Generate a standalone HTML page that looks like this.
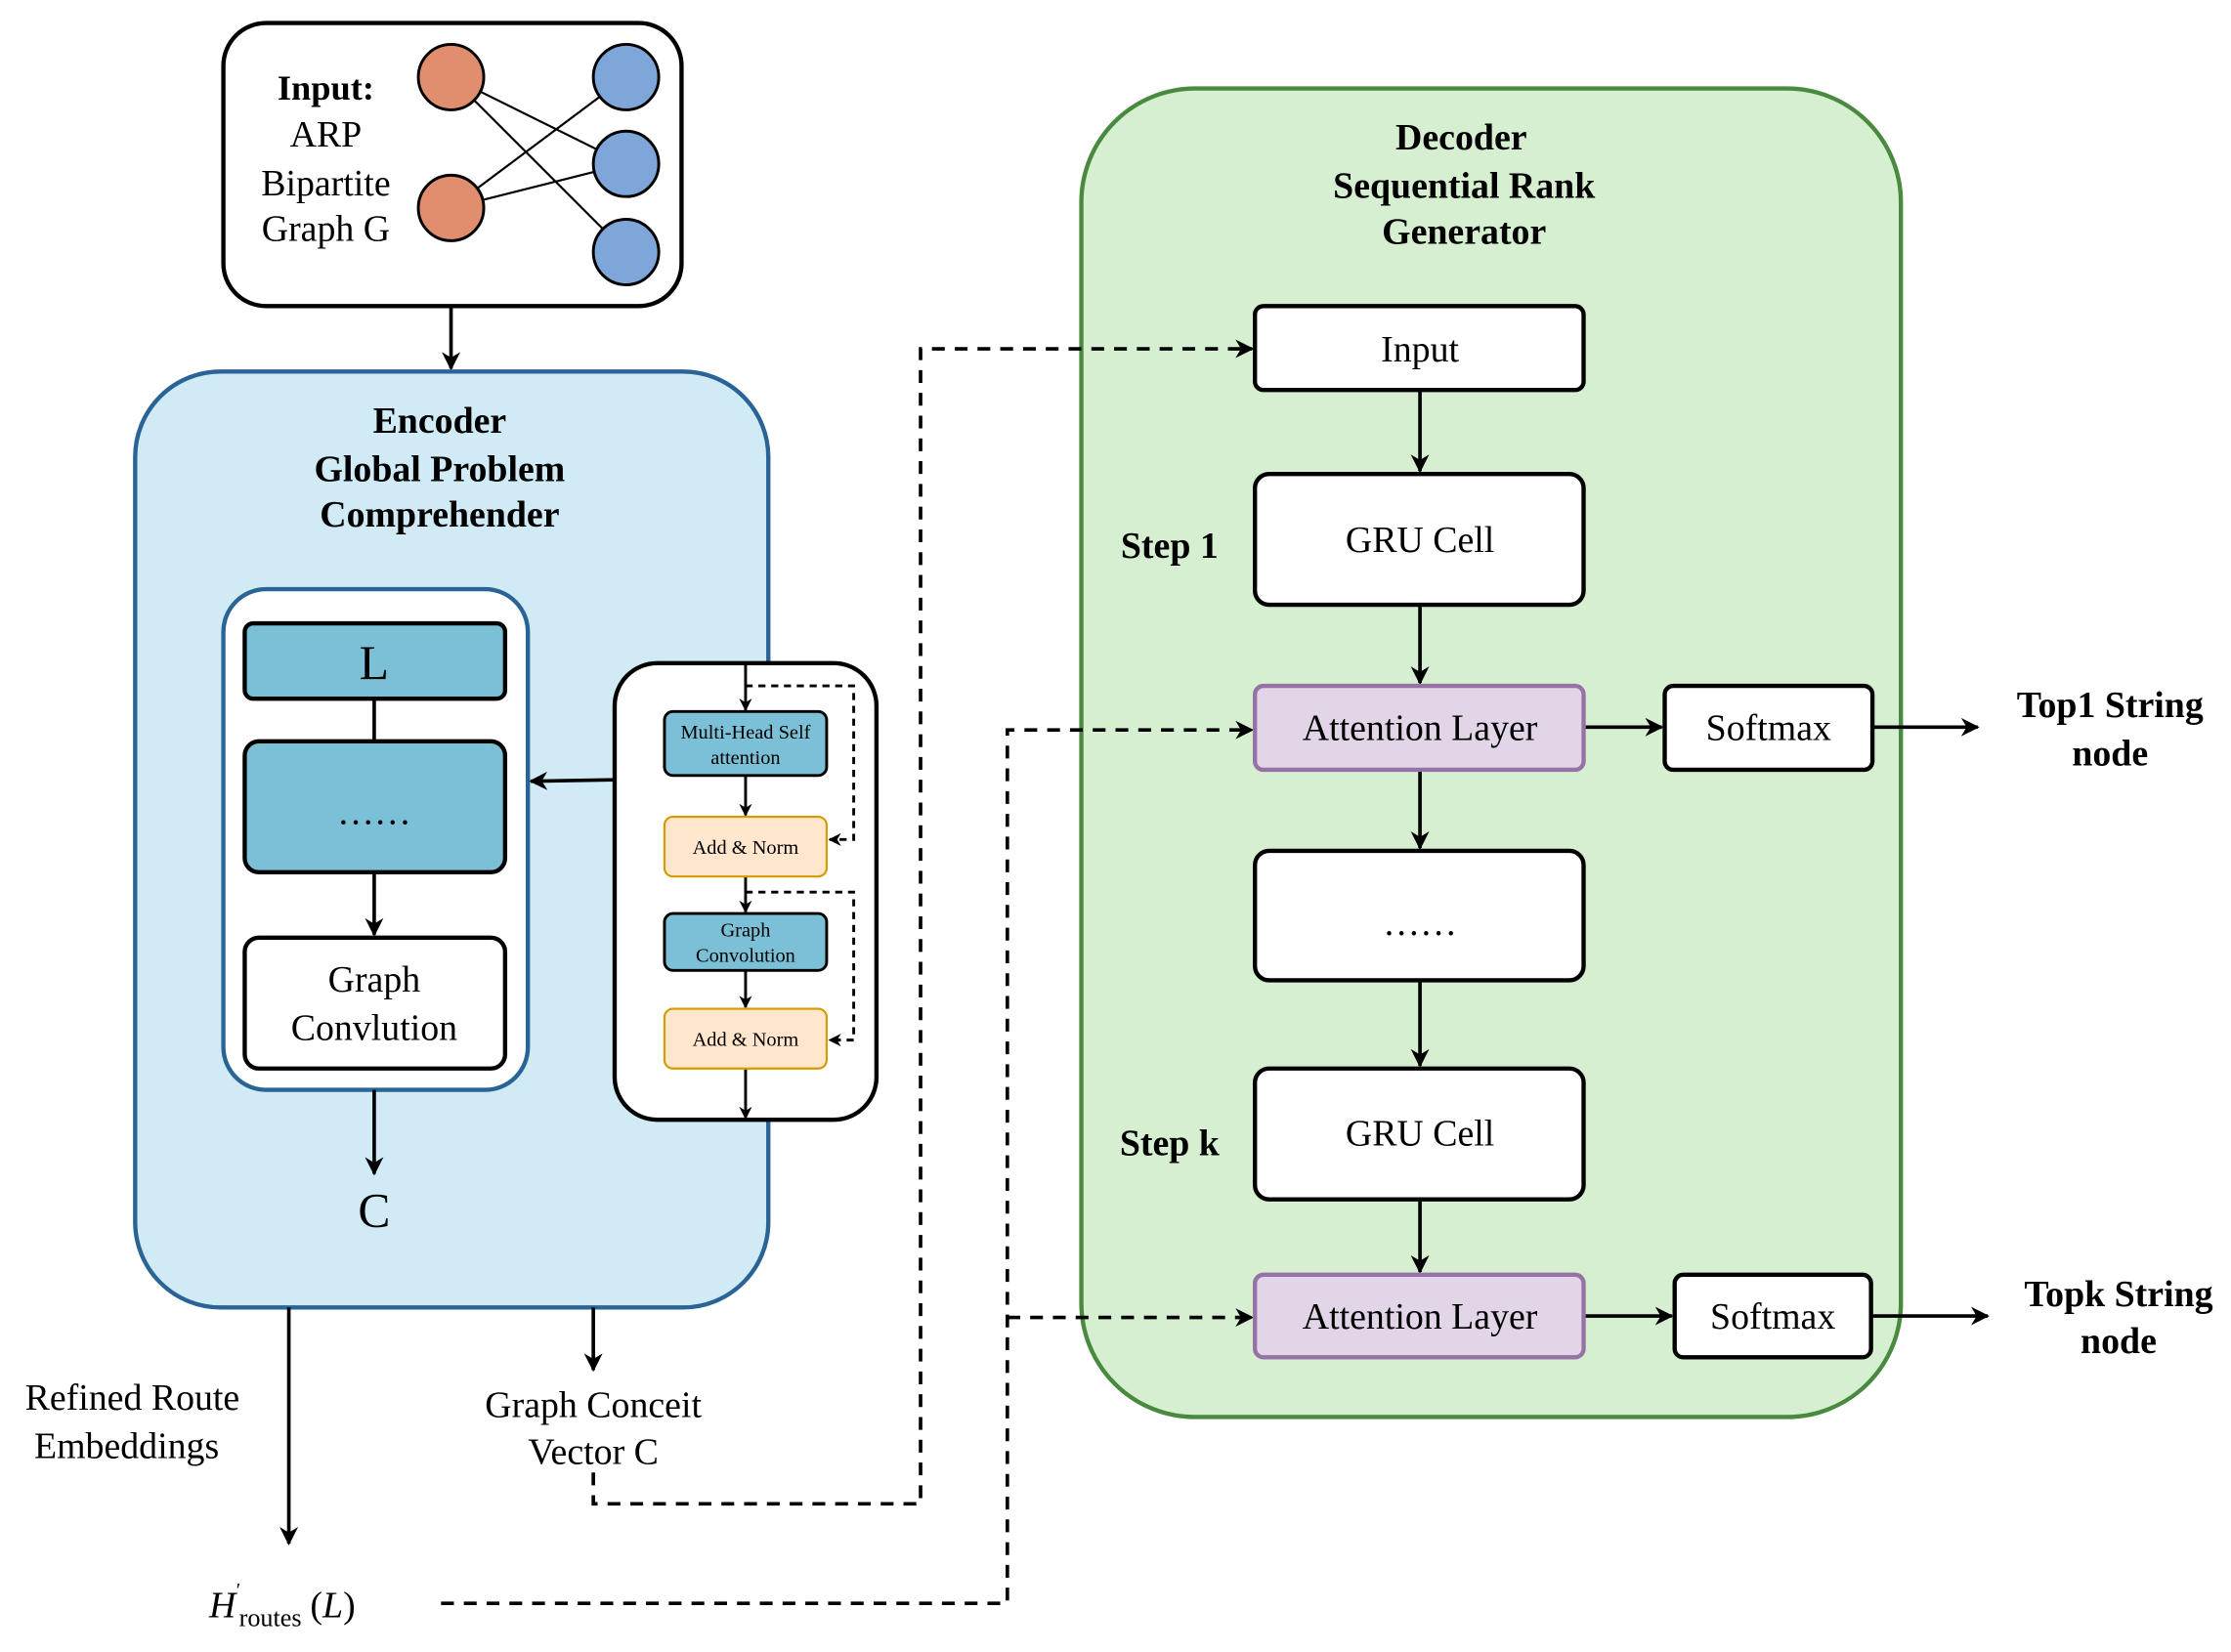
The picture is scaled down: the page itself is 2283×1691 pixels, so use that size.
<!DOCTYPE html>
<html><head><meta charset="utf-8"><style>
html,body{margin:0;padding:0;background:#fff;}
svg{display:block;}
text{font-family:"Liberation Serif",serif;fill:#000;}
.b{font-weight:bold;}
</style></head><body>
<svg width="2283" height="1691" viewBox="0 0 1568 1161" xmlns="http://www.w3.org/2000/svg">
<defs>
<marker id="a" viewBox="0 0 10 10" refX="9" refY="5" markerWidth="13" markerHeight="13" orient="auto" markerUnits="userSpaceOnUse"><path d="M0,0 L10,5 L0,10 L3,5 z" fill="#000"/></marker>
<marker id="as" viewBox="0 0 10 10" refX="9" refY="5" markerWidth="9" markerHeight="9" orient="auto" markerUnits="userSpaceOnUse"><path d="M0,0 L10,5 L0,10 L3,5 z" fill="#000"/></marker>
</defs>
<g font-size="26">
<rect x="157" y="16" width="322" height="199" rx="30" fill="#fff" stroke="#000" stroke-width="3"/>
<text x="229" y="70" text-anchor="middle" class="b" font-size="25">Input:</text>
<text x="229" y="103" text-anchor="middle">ARP</text>
<text x="229" y="137" text-anchor="middle">Bipartite</text>
<text x="229" y="169" text-anchor="middle">Graph G</text>
<g stroke="#000" stroke-width="1.5">
<line x1="317" y1="54" x2="440" y2="115"/><line x1="317" y1="54" x2="440" y2="177"/>
<line x1="317" y1="146" x2="440" y2="54"/><line x1="317" y1="146" x2="440" y2="115"/>
</g>
<g stroke="#000" stroke-width="2">
<circle cx="317" cy="54" r="23" fill="#e08e6d"/><circle cx="317" cy="146" r="23" fill="#e08e6d"/>
<circle cx="440" cy="54" r="23" fill="#7ea6d8"/><circle cx="440" cy="115" r="23" fill="#7ea6d8"/><circle cx="440" cy="177" r="23" fill="#7ea6d8"/>
</g>
<line x1="317" y1="215" x2="317" y2="259" stroke="#000" stroke-width="2.5" marker-end="url(#a)"/>
<rect x="95" y="261" width="445" height="658" rx="60" fill="#d0ebf5" stroke="#2a6496" stroke-width="3"/>
<text x="309" y="304" text-anchor="middle" class="b">Encoder</text>
<text x="309" y="338" text-anchor="middle" class="b">Global Problem</text>
<text x="309" y="370" text-anchor="middle" class="b">Comprehender</text>
<rect x="157" y="414" width="214" height="352" rx="30" fill="#fff" stroke="#2a6496" stroke-width="3"/>
<rect x="172" y="438" width="183" height="53" rx="6" fill="#7bc0d6" stroke="#000" stroke-width="3"/>
<text x="263" y="477" text-anchor="middle" font-size="34">L</text>
<line x1="263" y1="491" x2="263" y2="521" stroke="#000" stroke-width="2.5"/>
<rect x="172" y="521" width="183" height="92" rx="10" fill="#7bc0d6" stroke="#000" stroke-width="3"/>
<text x="263" y="579" text-anchor="middle">……</text>
<line x1="263" y1="613" x2="263" y2="657" stroke="#000" stroke-width="2.5" marker-end="url(#a)"/>
<rect x="172" y="659" width="183" height="92" rx="10" fill="#fff" stroke="#000" stroke-width="3"/>
<text x="263" y="697" text-anchor="middle">Graph</text>
<text x="263" y="731" text-anchor="middle">Convlution</text>
<line x1="263" y1="766" x2="263" y2="825" stroke="#000" stroke-width="2.5" marker-end="url(#a)"/>
<text x="263" y="862" text-anchor="middle" font-size="34">C</text>
<rect x="432" y="466" width="184" height="321" rx="30" fill="#fff" stroke="#000" stroke-width="3"/>
<line x1="432" y1="548" x2="373" y2="549" stroke="#000" stroke-width="2.5" marker-end="url(#a)"/>
<g stroke="#000" stroke-width="2">
<line x1="524" y1="466" x2="524" y2="499" marker-end="url(#as)"/>
<line x1="524" y1="545" x2="524" y2="573" marker-end="url(#as)"/>
<line x1="524" y1="616" x2="524" y2="641" marker-end="url(#as)"/>
<line x1="524" y1="682" x2="524" y2="708" marker-end="url(#as)"/>
<line x1="524" y1="751" x2="524" y2="786" marker-end="url(#as)"/>
<path d="M524,482 H600 V590 H583" fill="none" stroke-dasharray="5,4" marker-end="url(#as)"/>
<path d="M524,627 H600 V731 H583" fill="none" stroke-dasharray="5,4" marker-end="url(#as)"/>
</g>
<rect x="467" y="500" width="114" height="45" rx="6" fill="#7bc0d6" stroke="#000" stroke-width="2"/>
<text x="524" y="519" text-anchor="middle" font-size="14">Multi-Head Self</text>
<text x="524" y="537" text-anchor="middle" font-size="14">attention</text>
<rect x="467" y="574" width="114" height="42" rx="6" fill="#ffe6cc" stroke="#d79b00" stroke-width="1.5"/>
<text x="524" y="600" text-anchor="middle" font-size="14">Add &amp; Norm</text>
<rect x="467" y="642" width="114" height="40" rx="6" fill="#7bc0d6" stroke="#000" stroke-width="2"/>
<text x="524" y="658" text-anchor="middle" font-size="14">Graph</text>
<text x="524" y="676" text-anchor="middle" font-size="14">Convolution</text>
<rect x="467" y="709" width="114" height="42" rx="6" fill="#ffe6cc" stroke="#d79b00" stroke-width="1.5"/>
<text x="524" y="735" text-anchor="middle" font-size="14">Add &amp; Norm</text>
<line x1="203" y1="919" x2="203" y2="1085" stroke="#000" stroke-width="2.5" marker-end="url(#a)"/>
<line x1="417" y1="919" x2="417" y2="963" stroke="#000" stroke-width="2.5" marker-end="url(#a)"/>
<text x="93" y="991" text-anchor="middle">Refined Route</text>
<text x="89" y="1025" text-anchor="middle">Embeddings</text>
<text x="417" y="996" text-anchor="middle">Graph Conceit</text>
<text x="417" y="1029" text-anchor="middle">Vector C</text>
<text x="147" y="1137" font-style="italic">H</text><text x="166" y="1122" font-size="14">′</text><text x="168" y="1143" font-size="18">routes</text><text x="218" y="1137">(<tspan font-style="italic">L</tspan>)</text>
<rect x="760" y="62" width="576" height="934" rx="80" fill="#d5efd0" stroke="#4a8a40" stroke-width="3"/>
<text x="1027" y="105" text-anchor="middle" class="b">Decoder</text>
<text x="1029" y="139" text-anchor="middle" class="b">Sequential Rank</text>
<text x="1029" y="171" text-anchor="middle" class="b">Generator</text>
<g stroke="#000" stroke-width="2.5" fill="none" stroke-dasharray="9,7">
<path d="M417,1035 V1057 H647 V245 H880" marker-end="url(#a)"/>
<path d="M310,1127 H708 V513 H880" marker-end="url(#a)"/>
<path d="M708,926 H880" marker-end="url(#a)"/>
</g>
<g stroke="#000" stroke-width="2.5">
<line x1="998" y1="274" x2="998" y2="331" marker-end="url(#a)"/>
<line x1="998" y1="425" x2="998" y2="480" marker-end="url(#a)"/>
<line x1="998" y1="541" x2="998" y2="596" marker-end="url(#a)"/>
<line x1="998" y1="689" x2="998" y2="749" marker-end="url(#a)"/>
<line x1="998" y1="843" x2="998" y2="894" marker-end="url(#a)"/>
<line x1="1113" y1="511" x2="1168" y2="511" marker-end="url(#a)"/>
<line x1="1316" y1="511" x2="1390" y2="511" marker-end="url(#a)"/>
<line x1="1113" y1="925" x2="1175" y2="925" marker-end="url(#a)"/>
<line x1="1315" y1="925" x2="1397" y2="925" marker-end="url(#a)"/>
</g>
<g stroke="#000" stroke-width="3">
<rect x="882" y="215" width="231" height="59" rx="6" fill="#fff"/>
<rect x="882" y="333" width="231" height="92" rx="10" fill="#fff"/>
<rect x="882" y="482" width="231" height="59" rx="6" fill="#e1d5e7" stroke="#9673a6"/>
<rect x="1170" y="482" width="146" height="59" rx="6" fill="#fff"/>
<rect x="882" y="598" width="231" height="91" rx="10" fill="#fff"/>
<rect x="882" y="751" width="231" height="92" rx="10" fill="#fff"/>
<rect x="882" y="896" width="231" height="58" rx="6" fill="#e1d5e7" stroke="#9673a6"/>
<rect x="1177" y="896" width="138" height="58" rx="6" fill="#fff"/>
</g>
<text x="998" y="254" text-anchor="middle">Input</text>
<text x="998" y="388" text-anchor="middle">GRU Cell</text>
<text x="998" y="520" text-anchor="middle">Attention Layer</text>
<text x="1243" y="520" text-anchor="middle">Softmax</text>
<text x="998" y="657" text-anchor="middle">……</text>
<text x="998" y="805" text-anchor="middle">GRU Cell</text>
<text x="998" y="934" text-anchor="middle">Attention Layer</text>
<text x="1246" y="934" text-anchor="middle">Softmax</text>
<text x="822" y="392" text-anchor="middle" class="b">Step 1</text>
<text x="822" y="812" text-anchor="middle" class="b">Step k</text>
<text x="1483" y="504" text-anchor="middle" class="b">Top1 String</text>
<text x="1483" y="538" text-anchor="middle" class="b">node</text>
<text x="1489" y="918" text-anchor="middle" class="b">Topk String</text>
<text x="1489" y="951" text-anchor="middle" class="b">node</text>
</g>
</svg>
</body></html>
